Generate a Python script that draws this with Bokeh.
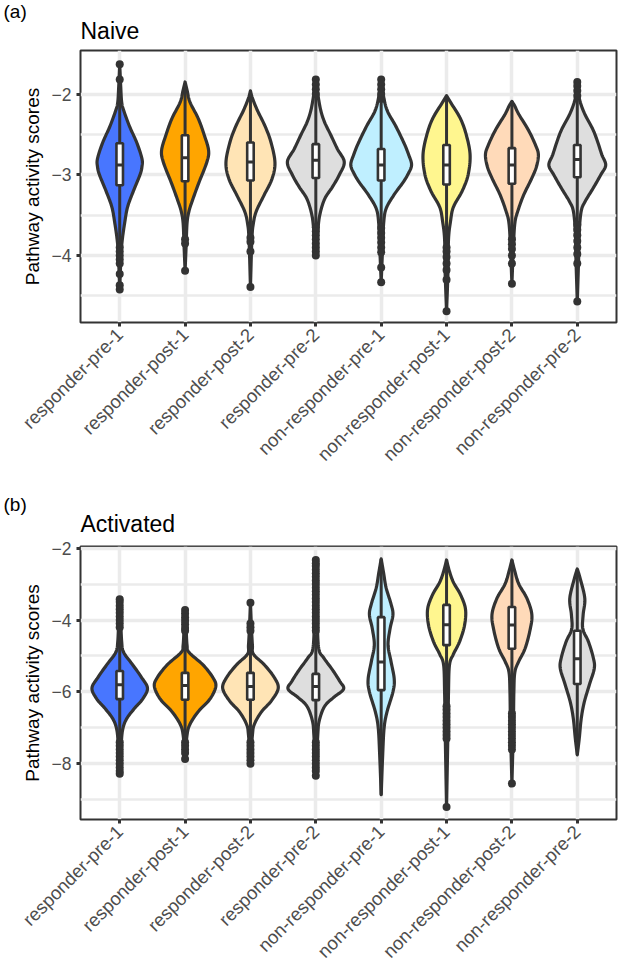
import math
import numpy as np
from bokeh.plotting import figure
from bokeh.layouts import column
from bokeh.models import Range1d, FixedTicker, Title, ColumnDataSource
from bokeh.embed import file_html
from bokeh.resources import INLINE

# ---------------- data ----------------
categories = ["responder-pre-1", "responder-post-1", "responder-post-2", "responder-pre-2",
              "non-responder-pre-1", "non-responder-post-1", "non-responder-post-2",
              "non-responder-pre-2"]
violin_colors = ["#4876FF", "#FFA500", "#FFE4B5", "#DEDEDE",
                 "#BFEFFF", "#FFF68F", "#FFDAB9", "#DEDEDE"]

naive_ticks = [-4, -3, -2]
naive_minor = [-4.5, -3.5, -2.5]
activated_ticks = [-8, -6, -4, -2]
activated_minor = [-9, -7, -5, -3]

# violin outlines: score levels and half widths (in category units)
naive_violin_y = [
    [-1.63, -1.9, -2.1, -2.2, -2.4, -2.6, -2.8, -2.9, -3.0, -3.2, -3.4, -3.6, -3.8, -4.0, -4.42],
    [-1.85, -1.95, -2.1, -2.3, -2.5, -2.7, -2.85, -3.1, -3.3, -3.45, -3.6, -3.9, -4.19],
    [-1.96, -2.05, -2.2, -2.4, -2.6, -2.85, -3.05, -3.25, -3.45, -3.6, -3.8, -4.39],
    [-1.82, -2.0, -2.2, -2.35, -2.5, -2.68, -2.84, -3.0, -3.15, -3.3, -3.5, -3.7, -4.0],
    [-1.82, -2.0, -2.2, -2.4, -2.6, -2.75, -2.88, -3.0, -3.1, -3.25, -3.42, -3.6, -3.9, -4.33],
    [-2.02, -2.1, -2.3, -2.5, -2.75, -3.0, -3.2, -3.4, -3.58, -3.8, -4.2, -4.69],
    [-2.09, -2.15, -2.25, -2.45, -2.63, -2.75, -2.9, -3.05, -3.25, -3.45, -3.6, -3.9, -4.35],
    [-1.85, -2.05, -2.23, -2.44, -2.6, -2.75, -2.88, -3.0, -3.17, -3.33, -3.45, -3.7, -4.0, -4.57],
]
naive_violin_w = [
    [0, .015, .03, .06, .15, .26, .34, .34, .31, .21, .12, .075, .04, .02, 0],
    [0, .03, .075, .2, .29, .36, .33, .21, .12, .06, .03, .015, 0],
    [0, .03, .105, .225, .315, .375, .33, .21, .09, .045, .022, 0],
    [0, .03, .075, .135, .225, .33, .435, .36, .255, .135, .06, .03, 0],
    [0, .03, .09, .225, .345, .42, .465, .405, .33, .195, .075, .038, .022, 0],
    [0, .06, .21, .3, .36, .33, .24, .105, .06, .03, .022, 0],
    [0, .045, .105, .255, .36, .405, .375, .3, .18, .09, .045, .022, 0],
    [0, .03, .105, .24, .315, .375, .435, .36, .24, .12, .06, .03, .022, 0],
]
naive_q1 = [-3.13, -3.08, -3.07, -3.04, -3.07, -3.12, -3.11, -3.03]
naive_median = [-2.88, -2.79, -2.84, -2.82, -2.88, -2.88, -2.88, -2.81]
naive_q3 = [-2.61, -2.51, -2.6, -2.62, -2.68, -2.63, -2.67, -2.63]
naive_whisker_lo = [-3.87, -3.76, -3.74, -3.62, -3.62, -3.86, -3.76, -3.6]
naive_whisker_hi = [-1.9, -1.88, -1.96, -2.02, -2.1, -2.02, -2.09, -2.05]
naive_outliers = [
    [-1.63, -1.82, -3.9, -3.95, -4.0, -4.05, -4.1, -4.23, -4.37, -4.42],
    [-3.8, -3.85, -4.19],
    [-3.78, -3.83, -3.95, -4.39],
    [-1.82, -1.88, -1.94, -2.0, -3.65, -3.7, -3.75, -3.8, -3.85, -3.9, -3.95, -4.0],
    [-1.82, -1.88, -1.94, -2.0, -2.06, -3.66, -3.72, -3.78, -3.84, -3.9, -3.96, -4.15, -4.33],
    [-3.9, -3.95, -4.02, -4.1, -4.18, -4.3, -4.69],
    [-3.8, -3.86, -3.92, -4.0, -4.1, -4.35],
    [-1.85, -1.9, -1.96, -2.02, -3.62, -3.68, -3.75, -3.82, -3.9, -3.98, -4.1, -4.57],
]

activated_violin_y = [
    [-3.42, -4.0, -4.6, -4.9, -5.25, -5.6, -5.9, -6.2, -6.45, -6.75, -7.05, -7.5, -8.28],
    [-3.72, -4.2, -4.7, -4.9, -5.25, -5.6, -5.85, -6.2, -6.55, -6.9, -7.2, -7.87],
    [-3.52, -4.2, -4.7, -4.95, -5.25, -5.6, -5.9, -6.25, -6.55, -6.9, -7.2, -8.0],
    [-2.33, -3.0, -4.0, -4.8, -5.05, -5.4, -5.7, -5.92, -6.15, -6.4, -6.8, -7.2, -8.33],
    [-2.3, -2.7, -3.1, -3.55, -3.85, -4.25, -4.7, -5.15, -5.65, -6.0, -6.55, -7.0, -7.8, -8.86],
    [-2.33, -2.65, -2.95, -3.3, -3.7, -4.15, -4.6, -4.95, -5.25, -6.0, -7.0, -9.2],
    [-2.33, -2.65, -3.0, -3.4, -3.85, -4.3, -4.8, -5.15, -5.45, -6.0, -7.0, -8.55],
    [-2.58, -2.85, -3.4, -3.85, -4.25, -4.6, -5.05, -5.35, -5.8, -6.3, -6.75, -7.3, -7.75],
]
activated_violin_w = [
    [0, .015, .03, .06, .2, .335, .425, .35, .23, .105, .045, .022, 0],
    [0, .015, .03, .06, .275, .425, .47, .38, .2, .075, .03, 0],
    [0, .015, .03, .045, .215, .365, .425, .32, .17, .06, .03, 0],
    [0, .015, .022, .045, .12, .26, .365, .425, .275, .135, .053, .03, 0],
    [0, .038, .075, .15, .18, .135, .105, .15, .2, .18, .09, .045, .022, 0],
    [0, .045, .105, .215, .29, .275, .2, .105, .045, .03, .022, 0],
    [0, .045, .105, .23, .305, .275, .2, .105, .045, .03, .022, 0],
    [0, .045, .115, .09, .085, .17, .245, .26, .185, .105, .06, .03, 0],
]
activated_q1 = [-6.2, -6.22, -6.22, -6.23, -5.95, -4.7, -4.8, -5.78]
activated_median = [-5.8, -5.82, -5.85, -5.85, -5.17, -4.13, -4.14, -5.08]
activated_q3 = [-5.42, -5.47, -5.47, -5.5, -3.92, -3.58, -3.64, -4.3]
activated_whisker_lo = [-7.37, -7.35, -7.35, -7.33, -8.86, -6.38, -6.54, -7.75]
activated_whisker_hi = [-4.3, -4.35, -4.35, -4.4, -2.3, -2.33, -2.33, -2.58]
activated_outliers = [
    [-3.42, -3.5, -3.6, -3.7, -3.8, -3.9, -4.0, -4.1, -4.2,
     -7.4, -7.5, -7.6, -7.7, -7.8, -7.9, -8.0, -8.1, -8.2, -8.28],
    [-3.72, -3.82, -3.92, -4.02, -4.12, -4.22, -4.3, -7.4, -7.5, -7.6, -7.7, -7.87],
    [-3.52, -4.1, -4.2, -4.3, -7.4, -7.5, -7.6, -7.7, -7.8, -7.9, -8.0],
    [-2.33, -2.42, -2.5, -2.6, -2.7, -2.8, -2.9, -3.0, -3.1, -3.2, -3.3, -3.4, -3.5,
     -3.6, -3.7, -3.8, -3.9, -4.0, -4.1, -4.2, -4.3,
     -7.4, -7.5, -7.6, -7.7, -7.8, -7.9, -8.0, -8.1, -8.2, -8.33],
    [],
    [-6.4, -6.5, -6.6, -6.7, -6.8, -6.9, -7.0, -7.1, -7.2, -7.3, -9.2],
    [-6.6, -6.7, -6.8, -6.9, -7.0, -7.1, -7.2, -7.3, -7.4, -7.5, -7.6, -8.55],
    [],
]

# ---------------- drawing ----------------
FONT = "Liberation Sans"
DARK = "#333333"
GRID = "#EBEBEB"


def smooth_outline(ys, ws, n=10):
    """Catmull-Rom curve through the read outline points (rendering only)."""
    pts = np.column_stack([ys, ws]).astype(float)
    P = np.vstack([pts[0], pts, pts[-1]])
    out = []
    for i in range(1, len(P) - 2):
        p0, p1, p2, p3 = P[i - 1], P[i], P[i + 1], P[i + 2]
        for t in np.linspace(0, 1, n, endpoint=False):
            t2, t3 = t * t, t * t * t
            out.append(0.5 * (2 * p1 + (-p0 + p2) * t + (2 * p0 - 5 * p1 + 4 * p2 - p3) * t2
                              + (-p0 + 3 * p1 - 3 * p2 + p3) * t3))
    out.append(P[-2])
    out = np.array(out)
    out[:, 1] = np.clip(out[:, 1], 0, None)
    return out[:, 0], out[:, 1]


def make_panel(tag, name, yrange, ticks, minor, vy, vw, q1, med, q3, wlo, whi, outl,
               width, height, b_top, b_bottom, b_right, name_standoff, tag_standoff):
    p = figure(width=width, height=height, x_range=Range1d(0.4, 8.6),
               y_range=Range1d(*yrange), output_backend="svg", toolbar_location=None,
               title=None, min_border_left=80, min_border_right=b_right,
               min_border_top=b_top, min_border_bottom=b_bottom,
               background_fill_color="white", border_fill_color="white")
    # panel title (closest to the frame) and panel tag above it
    p.add_layout(Title(text=name, align="left", vertical_align="top", text_font=FONT,
                       text_font_size="23px", text_font_style="normal", text_color="black",
                       standoff=name_standoff), "above")
    p.add_layout(Title(text=tag, align="left", vertical_align="bottom", text_font=FONT,
                       text_font_size="19px", text_font_style="normal", text_color="black",
                       standoff=tag_standoff, offset=-77), "above")

    xs_pos = list(range(1, len(categories) + 1))

    # axes
    p.xaxis.ticker = FixedTicker(ticks=xs_pos)
    p.xaxis.major_label_overrides = {x: c for x, c in zip(xs_pos, categories)}
    p.xaxis.major_label_orientation = math.pi / 4
    p.yaxis.ticker = FixedTicker(ticks=ticks, minor_ticks=minor)
    p.yaxis.major_label_overrides = {t: "\u2212" + str(abs(t)) for t in ticks}
    p.yaxis.axis_label = "Pathway activity scores"
    for ax in (p.xaxis[0], p.yaxis[0]):
        ax.axis_line_color = None
        ax.major_tick_line_color = DARK
        ax.major_tick_line_width = 3
        ax.major_tick_out = 4
        ax.major_tick_in = 0
        ax.minor_tick_line_color = None
        ax.major_label_text_font = FONT
        ax.major_label_text_color = "#4D4D4D"
        ax.major_label_standoff = 5
    p.xaxis.major_label_text_font_size = "18.5px"
    p.yaxis.major_label_text_font_size = "17.5px"
    p.yaxis.axis_label_text_font = FONT
    p.yaxis.axis_label_text_font_size = "19px"
    p.yaxis.axis_label_text_font_style = "normal"
    p.yaxis.axis_label_text_color = "black"
    p.yaxis.axis_label_standoff = 6

    # grid
    p.xgrid.ticker = FixedTicker(ticks=xs_pos)
    p.xgrid.grid_line_color = GRID
    p.xgrid.grid_line_width = 3.5
    p.ygrid.grid_line_color = GRID
    p.ygrid.grid_line_width = 3.5
    p.ygrid.minor_grid_line_color = GRID
    p.ygrid.minor_grid_line_width = 2.5
    p.outline_line_color = DARK
    p.outline_line_width = 2

    # violins
    pxs, pys = [], []
    for i, (ys, ws) in enumerate(zip(vy, vw)):
        sy, sw = smooth_outline(ys, ws)
        c = xs_pos[i]
        pxs.append(list(c + sw) + list(c - sw[::-1]))
        pys.append(list(sy) + list(sy[::-1]))
    p.patches(xs="xs", ys="ys", source=ColumnDataSource(dict(xs=pxs, ys=pys, color=violin_colors)),
              fill_color="color", line_color=DARK, line_width=3.2, line_join="round")

    # whiskers
    p.segment(x0=xs_pos, y0=wlo, x1=xs_pos, y1=whi, line_color=DARK, line_width=3)
    # outliers
    ox, oy = [], []
    for x, vals in zip(xs_pos, outl):
        ox += [x] * len(vals)
        oy += vals
    p.scatter(x=ox, y=oy, size=8, fill_color=DARK, line_color=None)
    # boxes
    p.quad(left=[x - 0.05 for x in xs_pos], right=[x + 0.05 for x in xs_pos],
           bottom=q1, top=q3, fill_color="white", line_color=DARK, line_width=2.6)
    p.segment(x0=[x - 0.05 for x in xs_pos], y0=med, x1=[x + 0.05 for x in xs_pos], y1=med,
              line_color=DARK, line_width=3)
    return p


pa = make_panel("(a)", "Naive", (-4.83, -1.46), naive_ticks, naive_minor,
                naive_violin_y, naive_violin_w, naive_q1, naive_median, naive_q3,
                naive_whisker_lo, naive_whisker_hi, naive_outliers,
                width=625, height=476, b_top=50, b_bottom=154, b_right=3,
                name_standoff=7.8, tag_standoff=-15)
pb = make_panel("(b)", "Activated", (-9.55, -1.955), activated_ticks, activated_minor,
                activated_violin_y, activated_violin_w, activated_q1, activated_median,
                activated_q3, activated_whisker_lo, activated_whisker_hi, activated_outliers,
                width=625, height=502, b_top=70, b_bottom=159, b_right=9,
                name_standoff=14.6, tag_standoff=-22)

layout = column(pa, pb, spacing=0)
open("out.html", "w").write(file_html(layout, INLINE))
